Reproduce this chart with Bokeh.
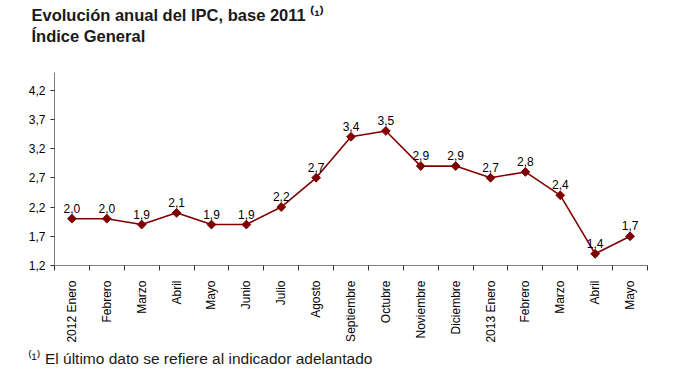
import math
from bokeh.plotting import figure
from bokeh.models import (ColumnDataSource, FixedTicker, CustomJSTickFormatter,
                          Range1d, Title, LinearAxis)
from bokeh.core.properties import value
from bokeh.embed import file_html
from bokeh.resources import INLINE

months = ["2012 Enero", "Febrero", "Marzo", "Abril", "Mayo", "Junio", "Julio",
          "Agosto", "Septiembre", "Octubre", "Noviembre", "Diciembre",
          "2013 Enero", "Febrero", "Marzo", "Abril", "Mayo"]
ipc = [2.0, 2.0, 1.9, 2.1, 1.9, 1.9, 2.2, 2.7, 3.4, 3.5, 2.9, 2.9, 2.7, 2.8, 2.4, 1.4, 1.7]
y_ticks = [1.2, 1.7, 2.2, 2.7, 3.2, 3.7, 4.2]

FONT = "Liberation Sans"
RED = "#800000"

W, H = 664, 368
FL, FR = 54, 647
N = len(months)

xs = [i + 0.5 for i in range(N)]
src = ColumnDataSource(dict(x=xs, y=ipc, lab=[f"{v:.1f}".replace(".", ",") for v in ipc]))

p = figure(width=W, height=H, output_backend="svg", toolbar_location=None,
           title=None, x_range=Range1d(0, N), y_range=Range1d(1.2, 4.5),
           min_border_left=FL, min_border_right=W - FR, min_border_top=0,
           min_border_bottom=0)
p.grid.visible = False
p.outline_line_color = None
p.background_fill_color = "white"
p.border_fill_color = "white"

p.line("x", "y", source=src, line_color=RED, line_width=1.6)
p.scatter("x", "y", source=src, marker="square", angle=math.pi / 4, size=6.2,
          fill_color=RED, line_color=RED)
p.text("x", "y", text="lab", source=src, text_align="center", text_baseline="bottom",
       y_offset=-6, text_font=value(FONT), text_font_size="12px", text_color="black")

# x axis
xa = p.xaxis[0]
xa.ticker = FixedTicker(ticks=xs, minor_ticks=list(range(N + 1)))
xa.major_label_overrides = {x: m for x, m in zip(xs, months)}
xa.major_tick_out = 0
xa.major_tick_in = 0
xa.minor_tick_out = 5
xa.minor_tick_in = 0
xa.minor_tick_line_color = "#333333"
xa.axis_line_color = "#808080"
xa.major_label_orientation = math.pi / 2
xa.major_label_standoff = 10
xa.major_label_text_font = FONT
xa.major_label_text_font_size = "12px"
xa.major_label_text_color = "black"

# y axis
ya = p.yaxis[0]
ya.ticker = FixedTicker(ticks=y_ticks, minor_ticks=[])
ya.formatter = CustomJSTickFormatter(code="return tick.toFixed(1).replace('.', ',');")
ya.major_tick_out = 4
ya.major_tick_in = 0
ya.major_tick_line_color = "#333333"
ya.axis_line_color = "#808080"
ya.major_label_standoff = 5
ya.major_label_text_font = FONT
ya.major_label_text_font_size = "12px"
ya.major_label_text_color = "black"

# white (invisible on white) spacer axis between the title and the frame
spacer = LinearAxis(ticker=FixedTicker(ticks=[0], minor_ticks=[]), major_tick_out=24,
                    major_tick_in=0, minor_tick_out=0, minor_tick_in=0,
                    major_tick_line_color="white", minor_tick_line_color=None,
                    axis_line_color=None, major_label_standoff=0,
                    major_label_overrides={0: ""}, major_label_text_font_size="0px")
p.add_layout(spacer, "above")

# two-line title and footnote
t = Title(text="Evolución anual del IPC, base 2011 ⁽¹⁾\nÍndice General", align="left",
          offset=-23, standoff=6, text_font=FONT,
          text_font_size="16.5px", text_font_style="bold", text_color="#1a1a1a",
          text_line_height=1.2)
p.add_layout(t, "above")

fn = Title(text="⁽¹⁾ El último dato se refiere al indicador adelantado", align="left",
           offset=-27, standoff=4, text_font=FONT, text_font_size="15.5px",
           text_font_style="normal", text_color="#1a1a1a")
p.add_layout(fn, "below")

open("out.html", "w").write(file_html(p, INLINE))
